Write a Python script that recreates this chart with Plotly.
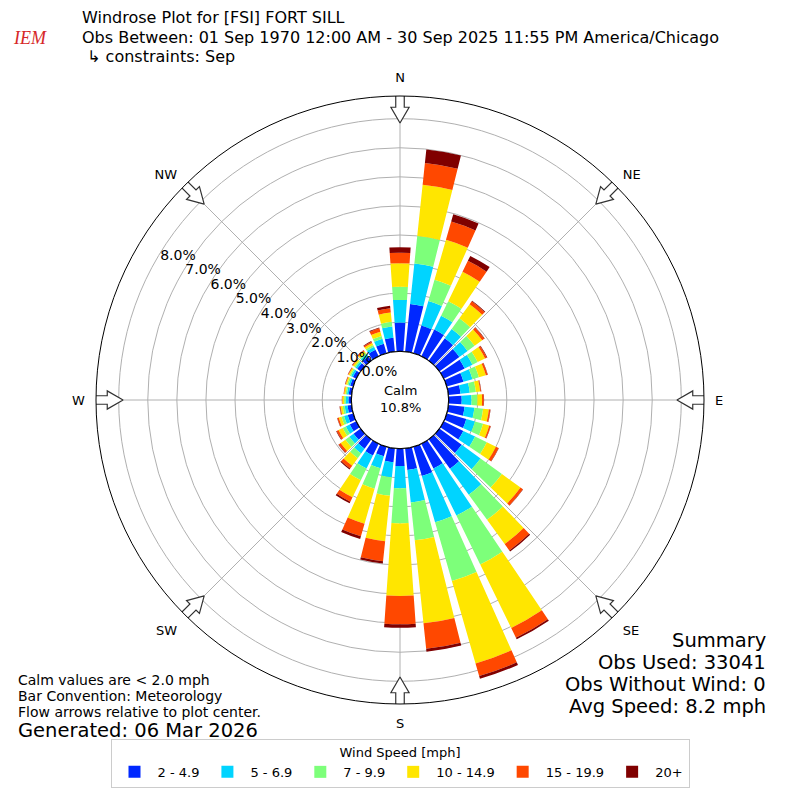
import math
import plotly.graph_objects as go

# wind directions (degrees, meteorological convention)
directions = list(range(0, 360, 10))

speed_bins = ['2 - 4.9', '5 - 6.9', '7 - 9.9', '10 - 14.9', '15 - 19.9', '20+']
bin_colors = ['#0028ff', '#00d4ff', '#7dff7a', '#ffe600', '#ff4800', '#800000']

# frequency [%] per direction for each speed bin
pct_2_5 = [0.99, 1.65, 0.99, 1.02, 0.95, 0.85, 0.80, 0.60, 0.42, 0.45, 0.56, 0.70,
           0.75, 0.95, 1.25, 0.95, 1.05, 0.75, 0.60, 0.48, 0.34, 0.45, 0.40, 0.30,
           0.25, 0.20, 0.14, 0.10, 0.10, 0.11, 0.13, 0.15, 0.18, 0.25, 0.34, 0.48]
pct_5_7 = [0.78, 1.40, 0.88, 0.53, 0.40, 0.35, 0.30, 0.32, 0.32, 0.34, 0.34, 0.31,
           0.45, 0.80, 1.10, 1.80, 1.65, 1.12, 0.76, 0.52, 0.43, 0.50, 0.20, 0.18,
           0.15, 0.13, 0.10, 0.09, 0.06, 0.06, 0.07, 0.07, 0.09, 0.11, 0.18, 0.39]
pct_7_10 = [0.45, 0.95, 0.76, 0.56, 0.45, 0.30, 0.20, 0.23, 0.21, 0.20, 0.30, 0.29,
            0.45, 0.91, 1.07, 1.87, 2.10, 1.31, 1.21, 0.64, 0.73, 0.45, 0.20, 0.17,
            0.12, 0.09, 0.07, 0.06, 0.05, 0.05, 0.05, 0.05, 0.06, 0.07, 0.10, 0.16]
pct_10_15 = [0.81, 1.77, 1.43, 1.12, 0.60, 0.32, 0.28, 0.25, 0.15, 0.16, 0.20, 0.22,
             0.35, 0.79, 1.03, 2.43, 2.95, 2.87, 2.50, 1.57, 1.25, 0.65, 0.32, 0.20,
             0.16, 0.10, 0.07, 0.06, 0.05, 0.05, 0.05, 0.06, 0.07, 0.08, 0.15, 0.32]
pct_15_20 = [0.36, 0.75, 0.65, 0.42, 0.12, 0.09, 0.07, 0.06, 0.03, 0.06, 0.05, 0.05,
             0.10, 0.10, 0.27, 0.37, 0.45, 0.88, 0.97, 0.69, 0.45, 0.17, 0.12, 0.08,
             0.07, 0.05, 0.03, 0.02, 0.02, 0.02, 0.02, 0.03, 0.04, 0.05, 0.12, 0.15]
pct_20_up = [0.19, 0.47, 0.26, 0.19, 0.03, 0.02, 0.02, 0.01, 0.01, 0.01, 0.01, 0.01,
             0.01, 0.01, 0.05, 0.06, 0.10, 0.10, 0.12, 0.08, 0.10, 0.06, 0.04, 0.02,
             0.02, 0.01, 0.01, 0.00, 0.00, 0.01, 0.01, 0.01, 0.01, 0.02, 0.03, 0.09]
bin_values = [pct_2_5, pct_5_7, pct_7_10, pct_10_15, pct_15_20, pct_20_up]

compass = [0, 45, 90, 135, 180, 225, 270, 315]
compass_labels = ['N', 'NE', 'E', 'SE', 'S', 'SW', 'W', 'NW']
radial_ticks = [0, 1, 2, 3, 4, 5, 6, 7, 8]

calm_pct = 10.8
r_max = 8.78
hole = 0.16
PAGE_OFF = 8  # the html page puts an 8px margin round the figure


def px(x):
    return (x - PAGE_OFF) / 800


def py(y):
    return 1 - (y - PAGE_OFF) / 800


fig = go.Figure()

for name, color, vals in zip(speed_bins, bin_colors, bin_values):
    fig.add_trace(go.Barpolar(r=vals, theta=directions, name=name, width=8,
                              marker=dict(color=color, line=dict(width=0))))

# black circle at the edge of the calm hole
circle_theta = list(range(0, 361, 2))
fig.add_trace(go.Scatterpolar(r=[0] * len(circle_theta), theta=circle_theta,
                              mode='lines', line=dict(color='black', width=1.2),
                              showlegend=False, hoverinfo='skip'))


# flow arrows at the compass points, pointing to the centre
def arrow_outline(d):
    # arrow shape in fractions of the outer radius (along = inward)
    L, h, w1, w2, start = 0.099, 0.052, 0.014, 0.03, 1.01
    pts = [(0, -w1), (L - h, -w1), (L - h, -w2), (L, 0), (L - h, w2),
           (L - h, w1), (0, w1), (0, -w1)]
    a = math.radians(d)
    ox, oy = math.sin(a), math.cos(a)
    qx, qy = math.cos(a), -math.sin(a)
    rr, tt = [], []
    for along, perp in pts:
        x = ox * (start - along) + qx * perp
        y = oy * (start - along) + qy * perp
        rho = math.hypot(x, y)
        rr.append((rho - hole) / (1 - hole) * r_max)
        tt.append(math.degrees(math.atan2(x, y)) % 360)
    return rr, tt


for d in compass:
    rr, tt = arrow_outline(d)
    fig.add_trace(go.Scatterpolar(r=rr, theta=tt, mode='lines', fill='toself',
                                  fillcolor='white', line=dict(color='#333333', width=1.2),
                                  cliponaxis=False, showlegend=False, hoverinfo='skip'))

fig.update_layout(
    width=800, height=800,
    margin=dict(l=0, r=0, t=0, b=0),
    paper_bgcolor='white',
    font=dict(family='DejaVu Sans', size=13, color='black'),
    polar=dict(
        domain=dict(x=[px(96), px(704)], y=[py(704), py(96)]),
        hole=hole,
        bgcolor='white',
        barmode='stack',
        radialaxis=dict(range=[0, r_max], tickvals=radial_ticks,
                        ticktext=['%.1f%%' % v for v in radial_ticks],
                        angle=150, tickangle=150, showline=False, ticks='',
                        gridcolor='#b0b0b0', gridwidth=1, layer='above traces',
                        tickfont=dict(size=14)),
        angularaxis=dict(rotation=90, direction='clockwise', tickvals=compass,
                         ticktext=compass_labels, showline=True, linecolor='black',
                         linewidth=1, ticks='outside', ticklen=8,
                         tickcolor='rgba(0,0,0,0)', gridcolor='#b0b0b0', gridwidth=1,
                         layer='above traces', tickfont=dict(size=13)),
    ),
    legend=dict(orientation='h', x=px(400), xanchor='center', y=py(788), yanchor='bottom',
                bordercolor='#cccccc', borderwidth=1, font=dict(size=13), itemwidth=36,
                title=dict(text='Wind Speed [mph]', side='top center', font=dict(size=13))),
    showlegend=True,
)

notes = [
    (80, 18, 'Windrose Plot for [FSI] FORT SILL', 16, 'left'),
    (80, 37, 'Obs Between: 01 Sep 1970 12:00 AM - 30 Sep 2025 11:55 PM America/Chicago', 16, 'left'),
    (80, 56, ' ↳ constraints: Sep', 16, 'left'),
    (16, 680, 'Calm values are < 2.0 mph', 14, 'left'),
    (16, 696, 'Bar Convention: Meteorology', 14, 'left'),
    (16, 712, 'Flow arrows relative to plot center.', 14, 'left'),
    (16, 730, 'Generated: 06 Mar 2026', 19.5, 'left'),
    (768, 640, 'Summary', 19.5, 'right'),
    (768, 662, 'Obs Used: 33041', 19.5, 'right'),
    (768, 684, 'Obs Without Wind: 0', 19.5, 'right'),
    (768, 706, 'Avg Speed: 8.2 mph', 19.5, 'right'),
]
for x, y, text, size, align in notes:
    fig.add_annotation(x=px(x), y=py(y), xref='paper', yref='paper',
                       text=text, showarrow=False, xanchor=align, yanchor='middle',
                       font=dict(size=size))

fig.add_annotation(x=px(400), y=py(399), xref='paper', yref='paper',
                   text='Calm<br>%.1f%%' % calm_pct, showarrow=False,
                   font=dict(size=13))
# logo stand-in
fig.add_annotation(x=px(30), y=py(38), xref='paper', yref='paper', text='<i>IEM</i>',
                   showarrow=False, xanchor='center', yanchor='middle',
                   font=dict(family='Liberation Serif', size=18, color='#d62728'))

fig.write_html('out.html')
